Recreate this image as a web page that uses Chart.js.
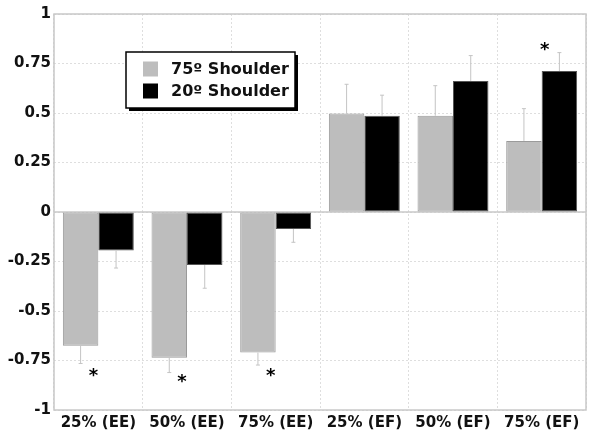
<!DOCTYPE html>
<html>
<head>
<meta charset="utf-8">
<script src="https://cdn.jsdelivr.net/npm/chart.js@4"></script>
<style>
html,body{margin:0;padding:0;background:#fff;}
#wrap{width:589px;height:430px;}
</style>
</head>
<body>
<div id="wrap"><canvas id="chart" width="589" height="430"></canvas></div>
<script>
const categories = ['25% (EE)', '50% (EE)', '75% (EE)', '25% (EF)', '50% (EF)', '75% (EF)']
const shoulder75 = [-0.675, -0.736, -0.71, 0.498, 0.486, 0.359]
const shoulder20 = [-0.195, -0.268, -0.086, 0.486, 0.662, 0.712]
const err75 = [0.09, 0.075, 0.063, 0.147, 0.152, 0.163]
const err20 = [0.088, 0.117, 0.067, 0.104, 0.128, 0.093]
// asterisk positions (value units), null = none
const stars = [-0.81, -0.84, -0.81, null, null, 0.835]
const errs = [err75, err20]

const FONT = 'DejaVu Sans'

/* frame, zero line, error bars, stars */
const extras = {
id: 'extras',
beforeDatasetsDraw(chart){
const ctx = chart.ctx
const a = chart.chartArea
const y = chart.scales.y
ctx.save()
ctx.strokeStyle = '#c8c8c8'
ctx.lineWidth = 1.5
ctx.strokeRect(a.left, a.top, a.right - a.left, a.bottom - a.top)
ctx.beginPath()
ctx.moveTo(a.left, y.getPixelForValue(0))
ctx.lineTo(a.right, y.getPixelForValue(0))
ctx.stroke()
ctx.restore()
},
afterDatasetsDraw(chart){
const ctx = chart.ctx
const y = chart.scales.y
const x = chart.scales.x
ctx.save()
ctx.strokeStyle = '#c4c4c4'
ctx.lineWidth = 1
chart.data.datasets.forEach((ds, di) => {
chart.getDatasetMeta(di).data.forEach((bar, i) => {
const v = ds.data[i]
const e = v < 0 ? v - errs[di][i] : v + errs[di][i]
const yEnd = y.getPixelForValue(e)
ctx.beginPath()
ctx.moveTo(bar.x, bar.y)
ctx.lineTo(bar.x, yEnd)
ctx.moveTo(bar.x - 2, yEnd)
ctx.lineTo(bar.x + 2, yEnd)
ctx.stroke()
})
})
ctx.fillStyle = '#000'
ctx.font = 'bold 18px ' + FONT
ctx.textAlign = 'center'
ctx.textBaseline = 'middle'
stars.forEach((s, i) => {
if (s === null) return
const cx = x.getPixelForValue(i) + (s < 0 ? -5 : 3)
ctx.fillText('*', cx, y.getPixelForValue(s) + 4)
})
ctx.restore()
},
afterDraw(chart){
const ctx = chart.ctx
const a = chart.chartArea
const bx = a.left + 72, by = a.top + 38, bw = 169, bh = 56
ctx.save()
ctx.fillStyle = '#000'
ctx.fillRect(bx + 3, by + 3, bw, bh)
ctx.fillStyle = '#fff'
ctx.fillRect(bx, by, bw, bh)
ctx.strokeStyle = '#000'
ctx.lineWidth = 1.5
ctx.strokeRect(bx, by, bw, bh)
ctx.font = 'bold 16px ' + FONT
ctx.textBaseline = 'middle'
chart.data.datasets.forEach((ds, i) => {
const ry = by + 17 + i * 22
ctx.fillStyle = ds.backgroundColor
ctx.fillRect(bx + 17, ry - 7.5, 15, 15)
ctx.fillStyle = '#111'
ctx.fillText(ds.label, bx + 45, ry + 1)
})
ctx.restore()
}
}

new Chart(document.getElementById('chart'), {
type: 'bar',
data: {
labels: categories,
datasets: [
{label: '75º Shoulder', data: shoulder75, backgroundColor: '#bdbdbd', borderColor: '#9a9a9a', borderWidth: 1, borderSkipped: false},
{label: '20º Shoulder', data: shoulder20, backgroundColor: '#000000', borderColor: '#555555', borderWidth: 1, borderSkipped: false}
]
},
options: {
responsive: false,
animation: false,
layout: {padding: {top: 14, right: 3, left: 0, bottom: 0}},
datasets: {bar: {categoryPercentage: 0.8, barPercentage: 1}},
plugins: {legend: {display: false}, tooltip: {enabled: false}},
scales: {
x: {
grid: {color: '#dedede', drawTicks: false, offset: true},
border: {display: false, dash: [2, 2]},
ticks: {color: '#111', padding: 4, font: {family: FONT, weight: 'bold', size: 15}},
afterFit: s => { s.height = 20 }
},
y: {
min: -1, max: 1,
grid: {color: '#dedede', drawTicks: false},
border: {display: false, dash: [2, 2]},
ticks: {
stepSize: 0.25, color: '#111', padding: 3, font: {family: FONT, weight: 'bold', size: 15},
callback: v => String(Math.round(v * 100) / 100)
},
afterFit: s => { s.width = 54 }
}
}
},
plugins: [extras]
})
</script>
</body>
</html>
